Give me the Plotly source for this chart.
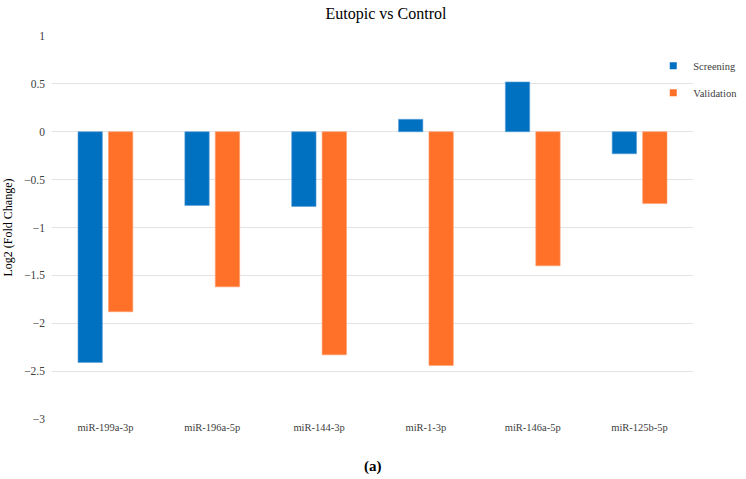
import plotly.graph_objects as go

categories = ["miR-199a-3p", "miR-196a-5p", "miR-144-3p", "miR-1-3p", "miR-146a-5p", "miR-125b-5p"]
screening = [-2.41, -0.77, -0.78, 0.13, 0.52, -0.23]
validation = [-1.88, -1.62, -2.33, -2.44, -1.40, -0.75]
series_names = ["Screening", "Validation"]
series_colors = ["#0070C0", "#FF7128"]
y_ticks = [1, 0.5, 0, -0.5, -1, -1.5, -2, -2.5, -3]
y_tick_text = ["1", "0.5", "0", "\u22120.5", "\u22121", "\u22121.5", "\u22122", "\u22122.5", "\u22123"]

SERIF = "Liberation Serif, Times New Roman, serif"

fig = go.Figure()
for name, vals, col, edge in zip(series_names, [screening, validation], series_colors,
                                 ["#5AA0D8", "#FFA070"]):
    fig.add_trace(go.Bar(x=categories, y=vals, name=name, showlegend=False,
                         marker=dict(color=col, line=dict(color=edge, width=0.6))))
# legend entries with small square symbols
for name, col in zip(series_names, series_colors):
    fig.add_trace(go.Scatter(x=[None], y=[None], mode="markers", name=name,
                             marker=dict(symbol="square", size=7, color=col),
                             legendgroup=name, showlegend=True))

fig.update_layout(
    width=746, height=479,
    paper_bgcolor="white", plot_bgcolor="white",
    margin=dict(l=52, r=53, t=36, b=60, autoexpand=False),
    barmode="group", bargap=0.43, bargroupgap=0.2,
    font=dict(family=SERIF, color="#404040", size=11),
    title=dict(text="Eutopic vs Control", x=386 / 746, xref="container", xanchor="center",
               y=1 - 13 / 479, yref="container", yanchor="middle",
               font=dict(family=SERIF, size=16, color="#000000")),
    showlegend=True,
    legend=dict(x=0.938, xanchor="left", y=0.96, yanchor="top",
                font=dict(family=SERIF, size=10.5, color="#404040"),
                tracegroupgap=8, itemwidth=30, bgcolor="rgba(0,0,0,0)"),
    xaxis=dict(showgrid=False, showline=False, ticks="", zeroline=False,
               tickfont=dict(family=SERIF, size=10.5, color="#404040")),
    yaxis=dict(range=[-3, 1], tickvals=y_ticks, ticktext=y_tick_text,
               showgrid=True, gridcolor="#E3E3E3", gridwidth=1,
               zeroline=True, zerolinecolor="#E3E3E3", zerolinewidth=1,
               showline=False, ticks="", ticklen=0, ticklabelstandoff=6,
               tickfont=dict(family=SERIF, size=11.5, color="#404040"),
               title=dict(text="Log2 (Fold Change)", standoff=8,
                          font=dict(family=SERIF, size=12, color="#000000"))),
    annotations=[dict(text="<b>(a)</b>", x=0.5, xref="paper", y=-(466 - 419) / 383,
                      yref="paper", yanchor="middle", showarrow=False,
                      font=dict(family=SERIF, size=15, color="#000000"))],
)

fig.write_html("out.html", config={"displayModeBar": False},
               post_script="document.body.style.margin='0';")
